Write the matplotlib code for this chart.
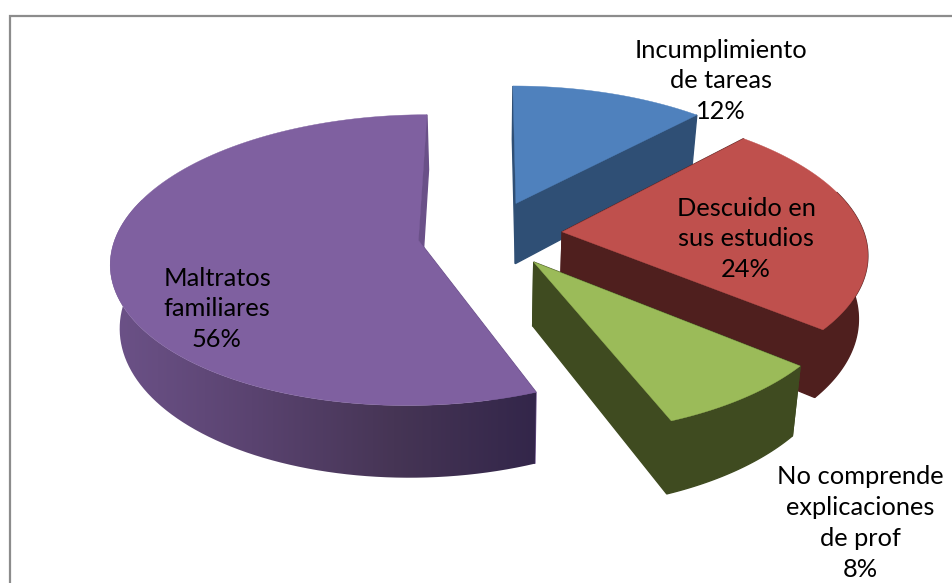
import numpy as np
from matplotlib import pyplot as plt
from matplotlib.colors import LinearSegmentedColormap
from matplotlib.patches import Polygon

plt.rcParams['font.family'] = ['Lato', 'DejaVu Sans']

# datos del grafico
labels = ["Incumplimiento\nde tareas\n12%", "Descuido en\nsus estudios\n24%",
          "No comprende\nexplicaciones\nde prof\n8%", "Maltratos\nfamiliares\n56%"]
values = [12, 24, 8, 56]
top_colors = ["#4f81bd", "#bf504d", "#9bbb59", "#7f60a0"]
side_colors = ["#2f4f75", "#4f1f1e", "#3f4b20", "#6a5088"]
label_pos = [(721, 81), (746, 239), (860, 523), (217, 309)]

# camara de la torta 3d (pixeles)
cx, cy = 490, 234
rx, ry = 302, 141
persp = 0.135
depth = 62
explode = 0.24


def project(x, y, z=0.0):
    s = 1 / (1 + persp * y)
    return np.column_stack((cx + rx * x * s * (1 - 0.025 * z), cy - ry * y * s + depth * z * s))


fig = plt.figure(figsize=(9.52, 5.83), dpi=100)
ax = fig.add_axes([0, 0, 1, 1])
ax.set_xlim(0, 952)
ax.set_ylim(583, 0)
ax.axis("off")

# marco del grafico
ax.plot([9.5, 9.5, 952], [583, 15.5, 15.5], color="#8c8c8c", lw=1.6, solid_joinstyle="miter")

edges = np.cumsum([0] + values) / sum(values) * 2 * np.pi
purple_wall = LinearSegmentedColormap.from_list("wall", ["#6c5288", "#5a4370", "#463555", "#33264a"])

# orden de pintado: azul, rojo, morado, verde
for i in [0, 1, 3, 2]:
    t = np.linspace(edges[i], edges[i + 1], 120)
    mid = (edges[i] + edges[i + 1]) / 2
    ox, oy = explode * np.sin(mid), explode * np.cos(mid)
    x = np.sin(t) + ox
    y = np.cos(t) + oy

    top = project(x, y)
    bottom = project(x, y, 1.0)
    apex_top = project(np.array([ox]), np.array([oy]))
    apex_bottom = project(np.array([ox]), np.array([oy]), 1.0)

    # paredes radiales
    for k in [0, -1]:
        wall = np.vstack((apex_top, top[k], bottom[k], apex_bottom))
        ax.add_patch(Polygon(wall, closed=True, fc=side_colors[i], ec=side_colors[i], lw=1, zorder=i * 3 + 1))

    # pared exterior, solo la parte de adelante
    front = np.cos(t) < 0.3
    outer = np.vstack((top[front], bottom[front][::-1]))
    if i == 3:
        clip = Polygon(outer, closed=True, fc="none", ec="none", transform=ax.transData)
        ax.add_patch(clip)
        im = ax.imshow(np.linspace(0, 1, 256)[None, :], cmap=purple_wall, aspect="auto",
                       extent=(outer[:, 0].min(), outer[:, 0].max(), outer[:, 1].max(), outer[:, 1].min()),
                       zorder=i * 3 + 2)
        im.set_clip_path(clip)
    elif len(outer):
        ax.add_patch(Polygon(outer, closed=True, fc=side_colors[i], ec=side_colors[i], lw=1, zorder=i * 3 + 2))

    # cara superior
    face = np.vstack((apex_top, top))
    ax.add_patch(Polygon(face, closed=True, fc=top_colors[i], ec=top_colors[i], lw=0.3, zorder=i * 3 + 3))

ax.set_xlim(0, 952)
ax.set_ylim(583, 0)

for lab, (px, py) in zip(labels, label_pos):
    ax.text(px, py, lab, ha="center", va="center", fontsize=18.3, color="black", linespacing=1.42, zorder=30)

fig.savefig("out.png", dpi=100)
